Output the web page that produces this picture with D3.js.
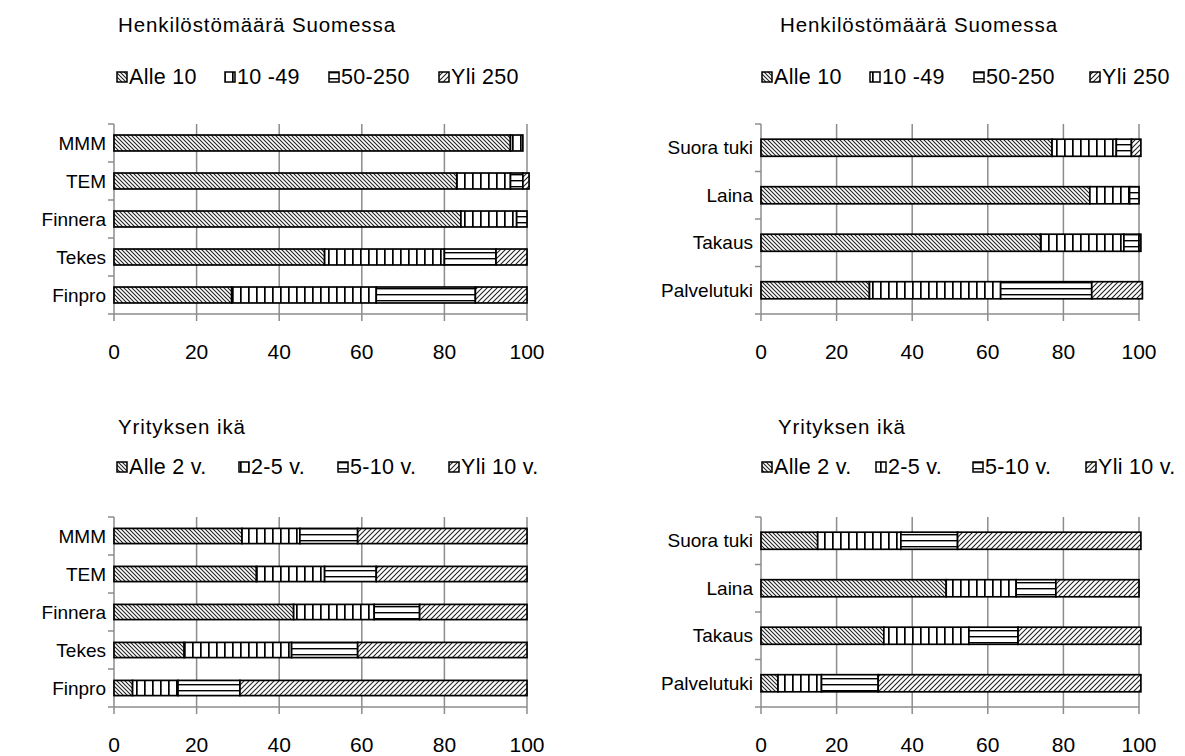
<!DOCTYPE html>
<html>
<head>
<meta charset="utf-8">
<script src="https://d3js.org/d3.v7.min.js"></script>
<style>
  body { margin: 0; background: #fff; }
  svg { font-family: "Liberation Sans", Arial, sans-serif; fill: #000; }
  .ttl { font-size: 20.5px; letter-spacing: 0.9px; }
  .leg text { font-size: 21.5px; letter-spacing: 0.3px; }
  .cat { font-size: 19px; }
  .tick-lbl { font-size: 21px; }
</style>
</head>
<body>
<div id="chart"></div>
<script>
// kategoriat
const sizeCats = ["Alle 10", "10 -49", "50-250", "Yli 250"];
const ageCats = ["Alle 2 v.", "2-5 v.", "5-10 v.", "Yli 10 v."];
const orgs = ["MMM", "TEM", "Finnera", "Tekes", "Finpro"];
const tools = ["Suora tuki", "Laina", "Takaus", "Palvelutuki"];
const xTicks = [0, 20, 40, 60, 80, 100];

// osuudet (%), luettu kuvasta
const sizeOrgs = [[96, 3, 0, 0], [83, 13, 3, 1.5], [84, 13.5, 2.5, 0], [51, 29, 12.5, 7.5], [28.5, 35, 24, 12.5]];
const sizeTools = [[77, 17, 4, 2.5], [87, 10.5, 2.5, 0], [74, 22, 4, 0.5], [28.7, 34.7, 24.1, 13.4]];
const ageOrgs = [[31, 14, 14, 41], [34.5, 16.5, 12.5, 36.5], [43.5, 19.5, 11, 26], [17, 26, 16, 41], [4.5, 11, 15, 69.5]];
const ageTools = [[15, 22, 15, 48.5], [49, 18.5, 10.5, 22], [32.5, 22.5, 13, 32.5], [4.5, 11.5, 15, 69.5]];

const W = 1185, H = 756;
const svg = d3.select("#chart").append("svg").attr("width", W).attr("height", H);

// kuviot
const defs = svg.append("defs");
function pat(id, w, h, draw) {
  const p = defs.append("pattern").attr("id", id).attr("patternUnits", "userSpaceOnUse")
    .attr("width", w).attr("height", h);
  p.append("rect").attr("width", w).attr("height", h).attr("fill", "#fff");
  draw(p);
}
pat("p0", 4, 4, p => {
  p.append("path").attr("d", "M-1,-1 L5,5 M-1,3 L1,5 M3,-1 L5,1").attr("stroke", "#222").attr("stroke-width", 1.1);
});
pat("p1", 8, 8, p => {
  p.append("rect").attr("x", 0).attr("y", 0).attr("width", 1.7).attr("height", 8).attr("fill", "#000");
});
pat("p2", 8, 6, p => {
  p.append("rect").attr("x", 0).attr("y", 0).attr("width", 8).attr("height", 1.4).attr("fill", "#000");
});
pat("p3", 5, 5, p => {
  p.append("path").attr("d", "M-1,6 L6,-1 M-1,1 L1,-1 M4,6 L6,4").attr("stroke", "#222").attr("stroke-width", 1.1);
});
const fills = ["url(#p0)", "url(#p1)", "url(#p2)", "url(#p3)"];

function panel(o) {
  const g = svg.append("g");
  g.append("text").attr("class", "ttl").attr("x", o.tx).attr("y", o.ty).text(o.title);

  // selite
  const leg = g.append("g").attr("class", "leg");
  o.series.forEach((s, i) => {
    const lx = o.legX[i];
    leg.append("rect").attr("x", lx).attr("y", o.ly - 12).attr("width", 10).attr("height", 10)
      .attr("fill", fills[i]).attr("stroke", "#000").attr("stroke-width", 1.5);
    leg.append("text").attr("x", lx + 12).attr("y", o.ly).text(s);
  });

  const x = d3.scaleLinear().domain([0, 100]).range([o.x0, o.x1]);
  const y = d3.scaleBand().domain(o.cats).range([o.y0, o.y1])
    .paddingInner(o.pad).paddingOuter(o.pad / 2);

  // ruudukko ja akselit
  g.append("g").selectAll("line").data(xTicks).join("line")
    .attr("x1", d => x(d)).attr("x2", d => x(d))
    .attr("y1", o.y0).attr("y2", o.y1 + 7)
    .attr("stroke", "#8c8c8c").attr("stroke-width", 1.5);
  g.append("line").attr("x1", o.x0).attr("x2", x(100)).attr("y1", o.y1).attr("y2", o.y1)
    .attr("stroke", "#8c8c8c").attr("stroke-width", 1.5);
  const step = y.step();
  const bounds = d3.range(o.cats.length + 1).map(i => o.y0 + i * step);
  g.append("g").selectAll("line").data(bounds).join("line")
    .attr("x1", o.x0 - 6).attr("x2", o.x0).attr("y1", d => d).attr("y2", d => d)
    .attr("stroke", "#8c8c8c").attr("stroke-width", 1.5);

  g.append("g").selectAll("text").data(xTicks).join("text").attr("class", "tick-lbl")
    .attr("x", d => x(d)).attr("y", o.y1 + 45).attr("text-anchor", "middle").text(d => d);

  g.append("g").selectAll("text").data(o.cats).join("text").attr("class", "cat")
    .attr("x", o.x0 - 8).attr("y", d => y(d) + y.bandwidth() / 2).attr("dy", "0.35em")
    .attr("text-anchor", "end").text(d => d);

  // pinotut palkit
  o.cats.forEach((c, ci) => {
    let acc = 0;
    o.values[ci].forEach((v, si) => {
      if (v > 0) {
        g.append("rect").attr("x", x(acc)).attr("y", y(c))
          .attr("width", x(acc + v) - x(acc)).attr("height", y.bandwidth())
          .attr("fill", fills[si]).attr("stroke", "#000").attr("stroke-width", 1.7);
      }
      acc += v;
    });
  });
}

panel({ title: "Henkilöstömäärä Suomessa", tx: 118, ty: 32, series: sizeCats, ly: 84,
  legX: [117, 225, 329, 439], cats: orgs, values: sizeOrgs,
  x0: 114, x1: 527, y0: 124, y1: 314, pad: 0.58 });
panel({ title: "Henkilöstömäärä Suomessa", tx: 780, ty: 32, series: sizeCats, ly: 84,
  legX: [762, 870, 974, 1090], cats: tools, values: sizeTools,
  x0: 761, x1: 1139, y0: 124, y1: 314, pad: 0.64 });
panel({ title: "Yrityksen ikä", tx: 118, ty: 434, series: ageCats, ly: 474,
  legX: [117, 239, 338, 449], cats: orgs, values: ageOrgs,
  x0: 114, x1: 527, y0: 517, y1: 707, pad: 0.6 });
panel({ title: "Yrityksen ikä", tx: 778, ty: 434, series: ageCats, ly: 474,
  legX: [762, 876, 973, 1086], cats: tools, values: ageTools,
  x0: 761, x1: 1139, y0: 517, y1: 707, pad: 0.64 });
</script>
</body>
</html>
